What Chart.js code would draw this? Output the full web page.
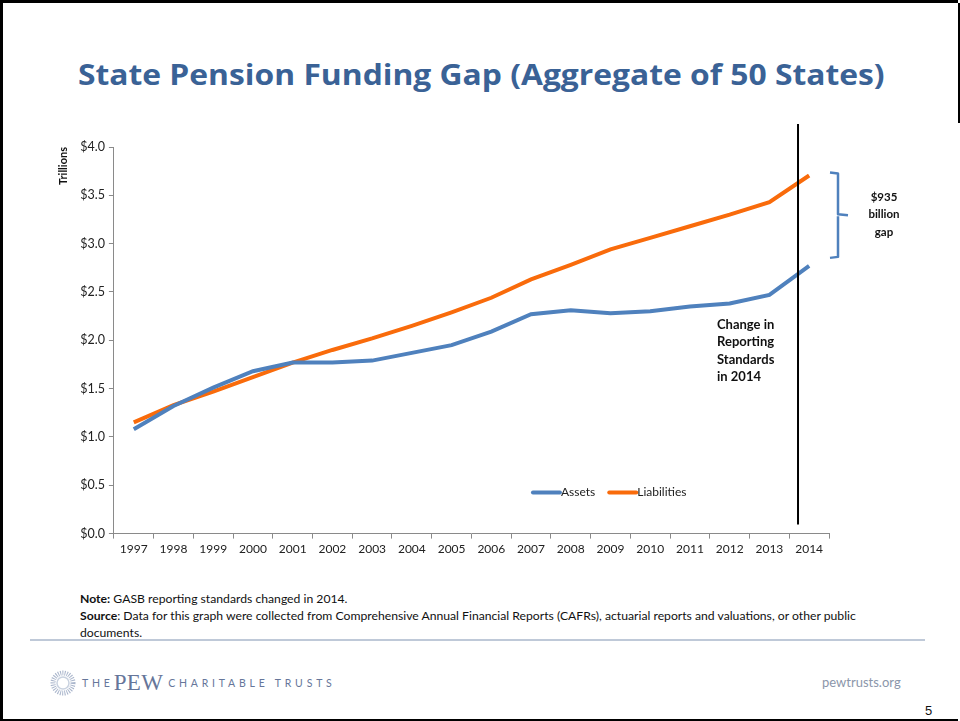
<!DOCTYPE html>
<html>
<head>
<meta charset="utf-8">
<script src="https://cdn.jsdelivr.net/npm/chart.js@4/dist/chart.umd.min.js"></script>
<style>
  html, body { margin: 0; padding: 0; background: #fff; }
  body { width: 960px; height: 721px; position: relative; overflow: hidden; font-family: 'Lato', sans-serif; }
  .frame { position: absolute; left: 0; top: 0; width: 955px; height: 716px; border-left: 3px solid #000; border-top: 3px solid #000; border-bottom: 3px solid #000; }
  .frame::after { content: ''; position: absolute; right: -2px; top: 0; width: 2px; height: 120px; background: #000; }
  h1 { position: absolute; left: 78px; top: 54px; margin: 0; font-family: 'Open Sans', sans-serif; font-weight: 700; font-size: 29px; color: #3A6296; white-space: nowrap; transform-origin: left center; }
  #wrap { position: absolute; left: 40px; top: 110px; width: 900px; height: 460px; }
  .notes { position: absolute; left: 80px; top: 590px; font-size: 12.2px; line-height: 17px; color: #111; white-space: nowrap; }
  .rule { position: absolute; left: 30px; top: 639px; width: 895px; height: 2px; background: #bfc9d8; }
  .logo { position: absolute; left: 50px; top: 670px; height: 26px; display: flex; align-items: center; color: #66769a; }
  .logo .the, .logo .ct { font-size: 10.5px; letter-spacing: 3.8px; }
  .logo .pew { font-family: 'Liberation Serif', serif; font-size: 23px; margin: 0 5px 0 0; letter-spacing: 0.3px; }
  .site { position: absolute; left: 822px; top: 674px; font-size: 13px; color: #8b96aa; }
  .page { position: absolute; left: 925px; top: 703px; font-size: 13px; color: #111; font-family: 'Liberation Sans', sans-serif; }
</style>
</head>
<body>
<div class="frame"></div>
<h1 id="title">State Pension Funding Gap (Aggregate of 50 States)</h1>
<div id="wrap"><canvas id="gap-chart"></canvas></div>
<div class="notes">
  <div><b>Note:</b> GASB reporting standards changed in 2014.</div>
  <div><b>Source</b>: Data for this graph were collected from Comprehensive Annual Financial Reports (CAFRs), actuarial reports and valuations, or other public</div>
  <div>documents.</div>
</div>
<div class="rule"></div>
<div class="logo">
  <svg width="26" height="26" viewBox="0 0 26 26">
    <circle cx="13" cy="13" r="10" fill="none" stroke="#aab6cc" stroke-width="5" stroke-dasharray="1 1.2"/>
    <circle cx="13" cy="13" r="6" fill="none" stroke="#c9d2e0" stroke-width="1.5"/>
  </svg>
  <span class="the" style="margin-left:6px">THE</span><span class="pew">PEW</span><span class="ct">CHARITABLE TRUSTS</span>
</div>
<div class="site">pewtrusts.org</div>
<div class="page">5</div>

<script>
// aggregate of 50 states, trillions of dollars
const years = ['1997', '1998', '1999', '2000', '2001', '2002', '2003', '2004', '2005',
  '2006', '2007', '2008', '2009', '2010', '2011', '2012', '2013', '2014'];
const assets = [1.08, 1.32, 1.51, 1.68, 1.77, 1.77, 1.79, 1.87, 1.95,
  2.09, 2.27, 2.31, 2.28, 2.30, 2.35, 2.38, 2.47, 2.77];
const liabilities = [1.15, 1.33, 1.47, 1.62, 1.77, 1.90, 2.02, 2.15, 2.29,
  2.44, 2.63, 2.78, 2.94, 3.06, 3.18, 3.30, 3.43, 3.705];
const gapLabel = ['$935', 'billion', 'gap'];
const changeNote = ['Change in', 'Reporting', 'Standards', 'in 2014'];
const changeAt = 16.72; // between the 2013 and 2014 points

const BLUE = '#4F81BD';
const ORANGE = '#F96B0B';

// fit the heading to its slot
const title = document.getElementById('title');
title.style.transform = 'scaleX(' + (807 / title.offsetWidth) + ')';

const annotations = {
  id: 'annotations',
  afterDatasetsDraw(chart) {
    const { ctx, chartArea, scales: { x, y } } = chart;
    const lineX = x.getPixelForValue(changeAt);
    ctx.save();

    // reporting change marker
    ctx.strokeStyle = '#000';
    ctx.lineWidth = 2;
    ctx.beginPath();
    ctx.moveTo(lineX, chartArea.top - 23);
    ctx.lineTo(lineX, chartArea.bottom - 9);
    ctx.stroke();

    ctx.fillStyle = '#111';
    ctx.font = 'bold 13px Lato';
    ctx.textAlign = 'left';
    ctx.textBaseline = 'middle';
    changeNote.forEach((t, i) => ctx.fillText(t, lineX - 81, y.getPixelForValue(2.16) + i * 17.3));

    // brace spanning the 2014 gap
    const last = years.length - 1;
    const yTop = y.getPixelForValue(liabilities[last]) - 3;
    const yBot = y.getPixelForValue(assets[last]) - 8;
    const bx = chartArea.right + 9;
    const yMid = (yTop + yBot) / 2;
    ctx.strokeStyle = BLUE;
    ctx.lineWidth = 2.5;
    ctx.lineJoin = 'round';
    ctx.beginPath();
    ctx.moveTo(bx - 8, yTop);
    ctx.lineTo(bx, yTop + 1);
    ctx.lineTo(bx, yMid - 1);
    ctx.lineTo(bx + 10, yMid);
    ctx.moveTo(bx, yMid + 1);
    ctx.lineTo(bx, yBot - 1);
    ctx.lineTo(bx - 8, yBot);
    ctx.stroke();

    ctx.fillStyle = '#111';
    ctx.font = 'bold 11.5px Lato';
    ctx.textAlign = 'center';
    gapLabel.forEach((t, i) => ctx.fillText(t, bx + 46, yMid - 18 + i * 17.5));

    ctx.restore();
  }
};

// legend sits inside the plot, lower right
const insideLegend = {
  id: 'insideLegend',
  afterDraw(chart) {
    const { ctx, chartArea } = chart;
    let lx = chartArea.left + chartArea.width * 0.586;
    const ly = chartArea.bottom - 41;
    ctx.save();
    ctx.font = '12px Lato';
    ctx.textBaseline = 'middle';
    ctx.textAlign = 'left';
    chart.data.datasets.forEach(ds => {
      ctx.strokeStyle = ds.borderColor;
      ctx.lineWidth = 4;
      ctx.lineCap = 'round';
      ctx.beginPath();
      ctx.moveTo(lx, ly);
      ctx.lineTo(lx + 27, ly);
      ctx.stroke();
      ctx.fillStyle = '#222';
      ctx.fillText(ds.label, lx + 28, ly);
      lx += 28 + ctx.measureText(ds.label).width + 14;
    });
    ctx.restore();
  }
};

new Chart(document.getElementById('gap-chart'), {
  type: 'line',
  data: {
    labels: years,
    datasets: [
      { label: 'Assets', data: assets, borderColor: BLUE, borderWidth: 4, pointRadius: 0, tension: 0, fill: false },
      { label: 'Liabilities', data: liabilities, borderColor: ORANGE, borderWidth: 4, pointRadius: 0, tension: 0, fill: false }
    ]
  },
  options: {
    responsive: true,
    maintainAspectRatio: false,
    animation: false,
    layout: { padding: { left: 17, top: 37, right: 111, bottom: 11 } },
    plugins: { legend: { display: false }, tooltip: { enabled: false } },
    scales: {
      x: {
        offset: true,
        grid: { offset: true, drawOnChartArea: false, tickLength: 5, color: '#8a8a8a' },
        border: { color: '#8a8a8a' },
        ticks: { color: '#222', font: { family: 'Lato', size: 12 }, padding: 3, maxRotation: 0, autoSkip: false }
      },
      y: {
        min: 0,
        max: 4,
        grid: { drawOnChartArea: false, tickLength: 5, color: '#8a8a8a' },
        border: { color: '#8a8a8a' },
        ticks: { stepSize: 0.5, color: '#222', font: { family: 'Lato', size: 12.5 }, padding: 4,
          callback: v => '$' + v.toFixed(1) },
        title: { display: true, text: 'Trillions', align: 'end', color: '#111',
          font: { family: 'Lato', size: 11, weight: 'bold' }, padding: { top: 0, bottom: 6 } }
      }
    }
  },
  plugins: [annotations, insideLegend]
});
</script>
</body>
</html>
